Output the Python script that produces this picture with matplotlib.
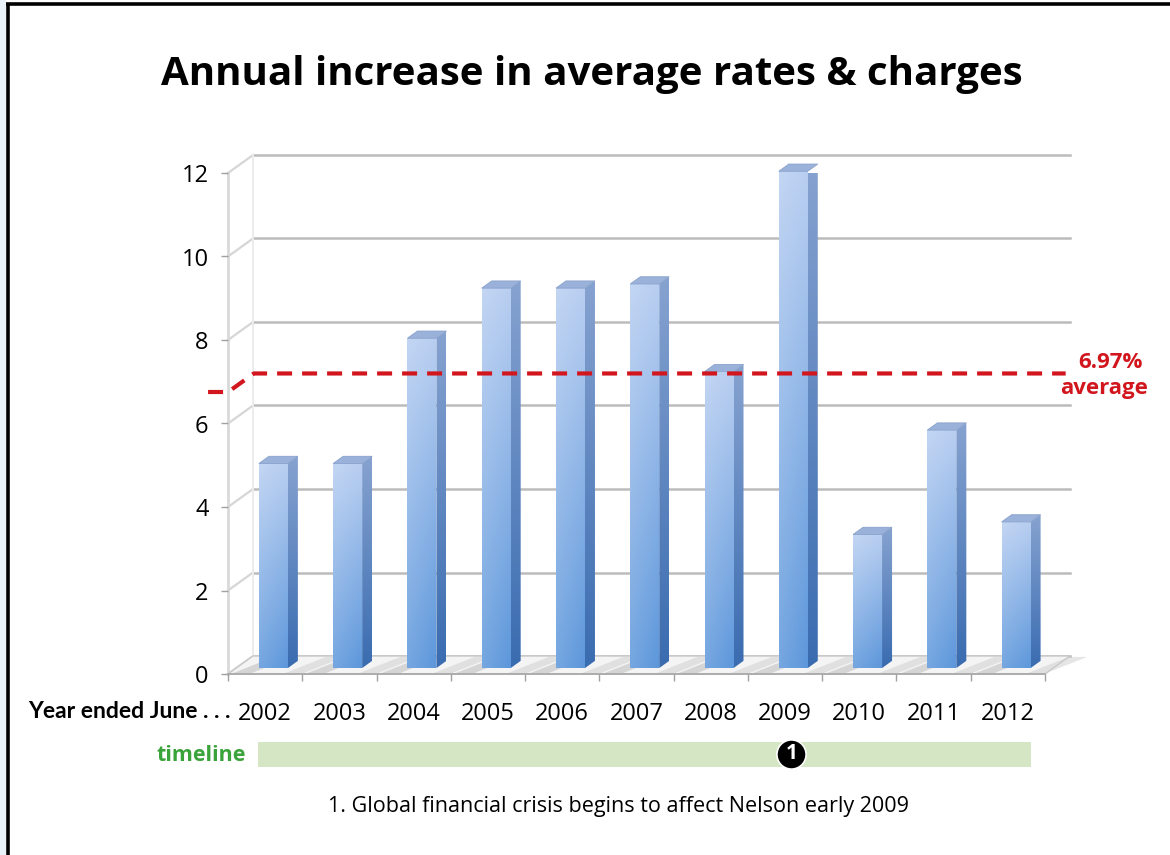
import numpy as np
import matplotlib
matplotlib.use("Agg")
import matplotlib.pyplot as plt
from matplotlib.patches import Polygon, Rectangle
from matplotlib.colors import to_rgb

# ---- data ----
years = ["2002", "2003", "2004", "2005", "2006", "2007",
         "2008", "2009", "2010", "2011", "2012"]
increase = [4.9, 4.9, 7.9, 9.1, 9.1, 9.2, 7.1, 11.9, 3.2, 5.7, 3.5]
average = 6.97
y_ticks = [0, 2, 4, 6, 8, 10, 12]

title = "Annual increase in average rates & charges"
axis_caption = "Year ended June . . ."
timeline_label = "timeline"
event_number = "1"
event_year = "2009"
footnote = "1. Global financial crisis begins to affect Nelson early 2009"

# ---- styling ----
W, H = 1170, 855
FONT = "Open Sans"
RED = "#d2161e"
GREEN = "#3aa43a"
GRID = "#bcbcbc"
DEPTH_PX = (25.0, 18.0)        # screen offset of the back wall (pixels)
BAR_D0, BAR_D1 = 0.33, 0.73    # depth span of the columns
BAR_W = 0.39

fig = plt.figure(figsize=(W / 100, H / 100), dpi=100)
fig.patch.set_facecolor("white")


def fx(px):
    return px / W


def fy(py):
    return 1 - py / H


# frame of the page
fig.patches.append(Rectangle((0, 0), fx(6), 1, transform=fig.transFigure,
                             facecolor="#e9f1f9", edgecolor="none", zorder=0))
fig.add_artist(plt.Line2D([fx(7.5), fx(7.5)], [0, fy(4.5)], transform=fig.transFigure,
                          color="black", lw=2.6, solid_capstyle="butt"))
fig.add_artist(plt.Line2D([fx(6), 1], [fy(4.5), fy(4.5)], transform=fig.transFigure,
                          color="black", lw=2.6, solid_capstyle="butt"))

ax = fig.add_axes([fx(228), fy(674), fx(1045) - fx(228), fy(173) - fy(674)])
n = len(years)
xs = np.arange(n)
ax.set_xlim(-0.5, n - 0.5)
ax.set_ylim(0, 12)
ax.set_facecolor("none")

# pixel size of one data unit, from the axes' own transform
p0 = ax.transData.transform((0, 0))
p1 = ax.transData.transform((1, 1))
ppx, ppy = p1[0] - p0[0], p1[1] - p0[1]


def proj(x, y, d):
    """Data point pushed back by depth d (0 = front plane, 1 = back wall)."""
    return (x + d * DEPTH_PX[0] / ppx, y + d * DEPTH_PX[1] / ppy)


x_lo, x_hi = -0.5, n - 0.5

# left side wall and back wall gridlines
for g in y_ticks:
    a = proj(x_lo, g, 0)
    b = proj(x_lo, g, 1)
    c = proj(x_hi, g, 1)
    ax.plot([a[0], b[0]], [a[1], b[1]], color="#d6d6d6", lw=1.6, clip_on=False, zorder=1)
    ax.plot([b[0], c[0]], [b[1], c[1]], color=GRID, lw=1.8, clip_on=False, zorder=1)
bl0, bl1 = proj(x_lo, 0, 1), proj(x_lo, 12, 1)
ax.plot([bl0[0], bl1[0]], [bl0[1], bl1[1]], color="#ececec", lw=1.4, clip_on=False, zorder=1)
ax.plot([x_lo, x_lo], [0, 12], color="#d9d9d9", lw=2.0, clip_on=False, zorder=1)

# floor
floor = [proj(x_lo, 0, 0), proj(x_hi, 0, 0), proj(x_hi, 0, 1), proj(x_lo, 0, 1)]
ax.add_patch(Polygon(floor, closed=True, facecolor="#f4f4f4", edgecolor="#c8c8c8",
                     lw=1.0, clip_on=False, zorder=1))
for i in xs:
    sh = [proj(i - 0.45, 0, 0.05), proj(i - 0.2, 0, 0.05),
          proj(i + 0.05, 0, 0.95), proj(i - 0.2, 0, 0.95)]
    ax.add_patch(Polygon(sh, closed=True, facecolor="#bdbdbd", edgecolor="none",
                         alpha=0.55, clip_on=False, zorder=1.5))
    sh2 = [proj(i + 0.25, 0, 0.05), proj(i + 0.5, 0, 0.05),
           proj(i + 0.75, 0, 0.95), proj(i + 0.5, 0, 0.95)]
    ax.add_patch(Polygon(sh2, closed=True, facecolor="#c9c9c9", edgecolor="none",
                         alpha=0.45, clip_on=False, zorder=1.5))
ax.plot([x_lo, x_hi], [0, 0], color="#a6a6a6", lw=1.2, clip_on=False, zorder=2)


def vertical_gradient(bottom, top, cols=2, rows=64, side_light=0.0):
    b, t = np.array(to_rgb(bottom)), np.array(to_rgb(top))
    f = np.linspace(0, 1, rows)[:, None, None]
    img = b * (1 - f) + t * f
    img = np.repeat(img, cols, axis=1)
    if side_light:
        h = np.linspace(1, 0, cols)[None, :, None]
        img = img + (1 - img) * side_light * h
    return np.clip(img, 0, 1)


# columns
front_img = vertical_gradient("#5d97db", "#b8cef1", cols=32, side_light=0.15)
side_img = vertical_gradient("#3a6cb0", "#86a2d0")
for i, v in zip(xs, increase):
    xl, xr = i - BAR_W / 2, i + BAR_W / 2
    fl = proj(xl, 0, BAR_D0)
    fr = proj(xr, v, BAR_D0)
    front = Rectangle((fl[0], fl[1]), fr[0] - fl[0], fr[1] - fl[1],
                      facecolor="none", edgecolor="none", transform=ax.transData)
    ax.add_patch(front)
    im = ax.imshow(front_img, extent=(fl[0], fr[0], fl[1], fr[1]), origin="lower",
                   aspect="auto", interpolation="bilinear", zorder=3)
    im.set_clip_path(front)

    side_pts = [proj(xr, 0, BAR_D0), proj(xr, v, BAR_D0),
                proj(xr, v, BAR_D1), proj(xr, 0, BAR_D1)]
    side = Polygon(side_pts, closed=True, facecolor="none", edgecolor="none")
    ax.add_patch(side)
    sx = [p[0] for p in side_pts]
    sy = [p[1] for p in side_pts]
    im2 = ax.imshow(side_img, extent=(min(sx), max(sx), min(sy), max(sy)), origin="lower",
                    aspect="auto", interpolation="bilinear", zorder=3)
    im2.set_clip_path(side)

    top_pts = [proj(xl, v, BAR_D0), proj(xr, v, BAR_D0),
               proj(xr, v, BAR_D1), proj(xl, v, BAR_D1)]
    ax.add_patch(Polygon(top_pts, closed=True, facecolor="#9ab2da", edgecolor="#8aa2cc",
                         lw=0.6, clip_on=False, zorder=3.5))

ax.set_xlim(-0.5, n - 0.5)
ax.set_ylim(0, 12)

# average line: in front of the left wall, then along the column depth
mid_d = (BAR_D0 + BAR_D1) / 2
k0 = proj(-0.6, average, -0.5)
k1 = proj(-0.33, average, -0.5)
k2 = proj(-0.33, average, mid_d)
k3 = proj(x_hi + 0.1, average, mid_d)
ax.plot([k0[0], k1[0], k2[0], k3[0]], [k0[1], k1[1], k2[1], k3[1]],
        color=RED, lw=3.0, dashes=(3.6, 2.4), clip_on=False, zorder=5,
        solid_joinstyle="miter")
ax.text(k3[0] + 0.6, average + 0.5, f"{average:.2f}%", color=RED, fontsize=16,
        fontweight="bold", family=FONT, ha="center", va="center", zorder=6)
ax.text(k3[0] + 0.52, average - 0.12, "average", color=RED, fontsize=16,
        fontweight="bold", family=FONT, ha="center", va="center", zorder=6)

# axes, ticks and labels
for s in ax.spines.values():
    s.set_visible(False)
ax.set_yticks(y_ticks)
ax.set_yticklabels([str(t) for t in y_ticks], fontsize=17, family=FONT)
ax.set_xticks(xs)
ax.set_xticklabels(years, fontsize=17, family=FONT)
ax.set_xticks(np.arange(n + 1) - 0.5, minor=True)
ax.tick_params(axis="y", length=5, color="#a0a0a0", width=1.0, pad=9)
ax.tick_params(axis="x", which="major", length=0, pad=20)
ax.tick_params(axis="x", which="minor", length=5, color="#a0a0a0", width=1.0)

fig.text(fx(231), fy(711), axis_caption, ha="right", va="center", fontsize=16.5,
         fontweight="bold", family="Lato")

# title
fig.text(fx(592), fy(75), title, ha="center", va="center", fontsize=29,
         fontweight="bold", family=FONT)

# timeline strip
ev = years.index(event_year)
tl = Rectangle((fx(258), fy(767)), fx(1031) - fx(258), fy(742) - fy(767),
               transform=fig.transFigure, facecolor="#d4e6c4", edgecolor="none")
fig.patches.append(tl)
fig.text(fx(246), fy(755), timeline_label, ha="right", va="center", fontsize=15.5,
         fontweight="bold", color=GREEN, family=FONT)
ev_x = ax.transData.transform(proj(ev, 0, BAR_D0))[0] / W - fx(2)
fig.add_artist(plt.Line2D([ev_x], [fy(754)], transform=fig.transFigure, marker="o",
                          markersize=21, markerfacecolor="black", markeredgecolor="white",
                          markeredgewidth=1.2, linestyle="none", zorder=5))
fig.text(ev_x, fy(753), event_number, ha="center", va="center", fontsize=15,
         fontweight="bold", color="white", family=FONT, zorder=6)

fig.text(fx(618), fy(806), footnote, ha="center", va="center", fontsize=15.5,
         family=FONT)

fig.savefig("out.png", dpi=100, facecolor="white")
